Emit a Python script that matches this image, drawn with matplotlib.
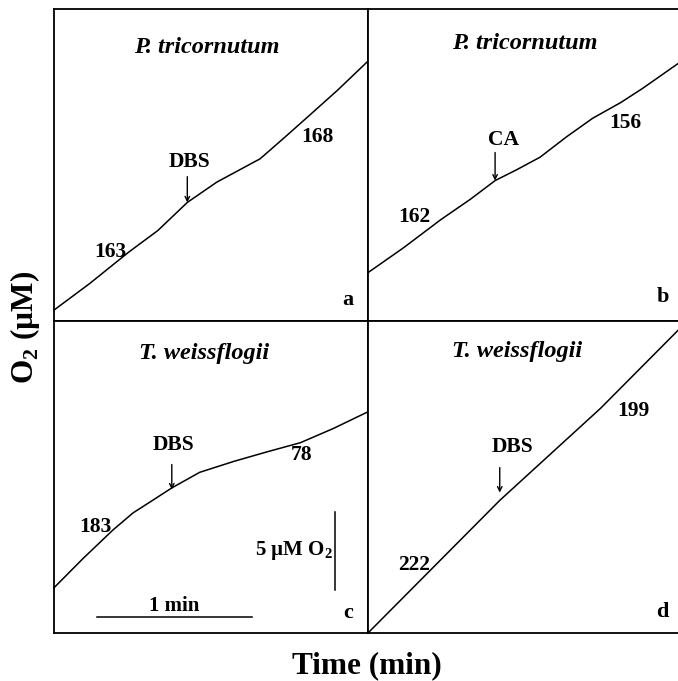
import matplotlib
matplotlib.use("Agg")
import matplotlib.pyplot as plt

plt.rcParams['font.family'] = ['Liberation Serif', 'DejaVu Serif']
plt.rcParams['font.weight'] = 'bold'

# Oxygen traces: time (min) vs O2 (µM, relative)
t_a = [0.0, 0.23, 0.48, 0.67, 0.86, 1.05, 1.33, 1.48, 1.65, 1.83, 2.03]
o2_a = [0.7, 2.4, 4.4, 5.8, 7.6, 8.9, 10.4, 11.7, 13.2, 14.8, 16.7]

t_b = [0.0, 0.23, 0.47, 0.66, 0.82, 0.96, 1.11, 1.28, 1.45, 1.63, 1.77, 2.0]
o2_b = [3.1, 4.7, 6.5, 7.8, 9.0, 9.7, 10.5, 11.8, 13.0, 14.0, 14.9, 16.5]

t_c = [0.0, 0.19, 0.38, 0.51, 0.62, 0.76, 0.94, 1.16, 1.37, 1.59, 1.80, 2.03]
o2_c = [2.9, 4.8, 6.6, 7.7, 8.4, 9.3, 10.3, 11.0, 11.6, 12.2, 13.1, 14.2]

t_d = [0.0, 0.41, 0.85, 1.50, 2.0]
o2_d = [0.0, 4.1, 8.5, 14.4, 19.4]

species = ["P. tricornutum", "P. tricornutum", "T. weissflogii", "T. weissflogii"]
panel_letters = ["a", "b", "c", "d"]
additions = ["DBS", "CA", "DBS", "DBS"]
rate_before = ["163", "162", "183", "222"]
rate_after = ["168", "156", "78", "199"]

# Arrow time of each addition (min)
add_time = [0.86, 0.82, 0.76, 0.85]

W, H = 678, 681
fig = plt.figure(figsize=(W / 100, H / 100), dpi=100)

px_per_min = 155.0
px_per_uM = 15.6

# panel boxes in pixels: (left, top, width, height)
boxes = [(54, 9, 314, 312), (368, 9, 310, 312),
         (54, 321, 314, 312), (368, 321, 310, 312)]

traces = [(t_a, o2_a), (t_b, o2_b), (t_c, o2_c), (t_d, o2_d)]

# Label positions in data units (time, O2)
before_pos = [(0.47, 4.4), (0.40, 6.67), (0.37, 6.79), (0.40, 4.36)]
after_pos = [(1.70, 11.8), (1.66, 12.7), (1.60, 11.4), (1.71, 14.2)]
add_label_pos = [(0.877, 10.2), (0.877, 11.6), (0.768, 12.05), (0.929, 11.9)]
arrow_span = [(9.25, 7.6), (10.8, 9.0), (10.8, 9.2), (10.6, 9.0)]
title_pos = [(0.487, 0.878), (0.506, 0.891), (0.478, 0.897), (0.481, 0.901)]
letter_pos = [(0.936, 0.067), (0.952, 0.077), (0.936, 0.064), (0.948, 0.067)]

axes = []
for i, (l, t, w, h) in enumerate(boxes):
    ax = fig.add_axes([l / W, 1 - (t + h) / H, w / W, h / H])
    ax.set_xlim(0, w / px_per_min)
    ax.set_ylim(0, h / px_per_uM)
    ax.set_xticks([])
    ax.set_yticks([])
    for s in ax.spines.values():
        s.set_linewidth(1.3)
    if i in (1, 3):
        ax.spines['right'].set_visible(False)
    tt, oo = traces[i]
    ax.plot(tt, oo, color='black', lw=1.1, clip_on=False)
    ax.text(*title_pos[i], species[i], transform=ax.transAxes, ha='center',
            va='center', fontsize=17.5, style='italic', weight='bold')
    ax.text(*letter_pos[i], panel_letters[i], transform=ax.transAxes,
            ha='center', va='center', fontsize=16, weight='bold')
    ax.text(*before_pos[i], rate_before[i], ha='right', va='center',
            fontsize=15.5, weight='bold')
    ax.text(*after_pos[i], rate_after[i], ha='center', va='center',
            fontsize=15.5, weight='bold')
    ax.text(*add_label_pos[i], additions[i], ha='center', va='center',
            fontsize=15.5, weight='bold')
    y0, y1 = arrow_span[i]
    ax.annotate('', xy=(add_time[i], y1), xytext=(add_time[i], y0),
                arrowprops=dict(arrowstyle='->', lw=1.0, color='black',
                                mutation_scale=8, shrinkA=0, shrinkB=0))
    axes.append(ax)

# Scale bars in panel c
axc = axes[2]
axc.plot([0.277, 1.277], [1.03, 1.03], color='black', lw=1.1)
axc.text(0.777, 1.7, "1 min", ha='center', va='center', fontsize=15,
         weight='bold')
axc.plot([1.813, 1.813], [2.76, 7.76], color='black', lw=1.1)
axc.text(1.80, 5.3, "5 µM O$_\\mathregular{2}$", ha='right', va='center',
         fontsize=15, weight='bold')

fig.text(25 / W, 1 - 327 / H, "O$_\\mathregular{2}$ (µM)", rotation=90,
         ha='center', va='center', fontsize=22.5, weight='bold')
fig.text(367 / W, 1 - 666 / H, "Time (min)", ha='center', va='center',
         fontsize=22.5, weight='bold')

fig.savefig("out.png", dpi=100)
